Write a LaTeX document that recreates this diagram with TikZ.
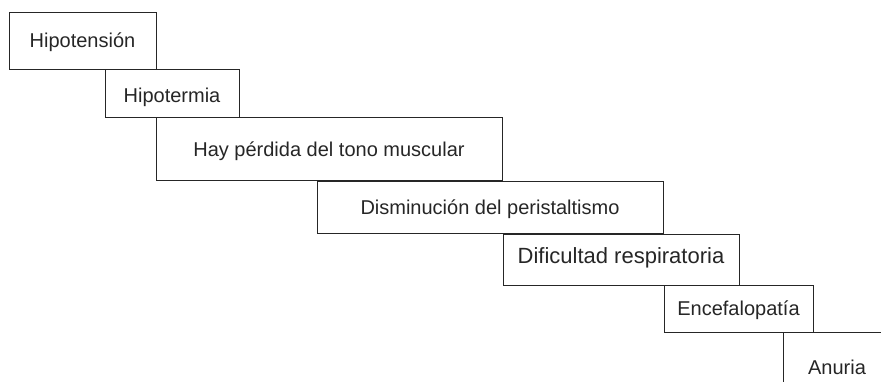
\documentclass[tikz,border=0pt]{standalone}
\usepackage{fontspec}
\setmainfont{Liberation Sans}
\begin{document}
\begin{tikzpicture}[x=1pt,y=-1pt,
  stepbox/.style={draw=black!85, line width=1pt, rectangle, inner sep=0pt,
    font=\fontsize{20}{24}\selectfont, text=black!85, text height=20pt},
  plain/.style={inner sep=0pt, font=\fontsize{20}{24}\selectfont, text=black!85, anchor=base},
  edge/.style={draw=black!85, line width=1pt}]
\useasboundingbox (0,0) rectangle (881,382);
\node[stepbox, minimum width=147pt, minimum height=57pt, text depth=7pt] (n1) at (82.5,41.5) {Hipotensión};
\node[stepbox, minimum width=134pt, minimum height=48pt, text depth=2pt] (n2) at (172,94) {Hipotermia};
\node[stepbox, minimum width=346pt, minimum height=63pt, text depth=5pt] (n3) at (329,149.5) {Hay pérdida del tono muscular};
\node[stepbox, minimum width=346pt, minimum height=52pt, text depth=6pt] (n4) at (490,208) {Disminución del peristaltismo};
\node[stepbox, minimum width=236pt, minimum height=50pt, text depth=12pt, font=\fontsize{22}{26}\selectfont] (n5) at (621,260) {Dificultad respiratoria};
\node[stepbox, minimum width=149pt, minimum height=47pt, text depth=7pt] (n6) at (738.5,308.5) {Encefalopatía};
\node[plain] (n7) at (837,374) {Anuria};
\coordinate (a1) at (783,382);
\coordinate (a2) at (881,332);
\draw[edge] (a1) |- (a2);
\end{tikzpicture}
\end{document}
